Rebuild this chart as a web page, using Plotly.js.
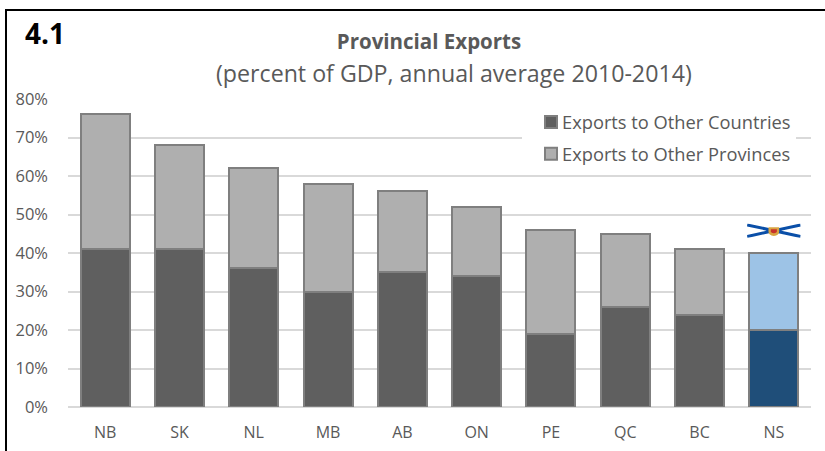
<!DOCTYPE html>
<html>
<head>
<meta charset="utf-8">
<script src="https://cdn.plot.ly/plotly-3.0.1.min.js"></script>
<style>
  html, body { margin: 0; padding: 0; background: #fff; overflow: hidden; }
  #frame { position: absolute; left: 5px; top: 9px; width: 820px; height: 442px;
           border-left: 2px solid #000; border-top: 2px solid #000; box-sizing: border-box; }
  #chart { position: absolute; left: 0; top: 0; width: 825px; height: 451px; }
</style>
</head>
<body>
<div id="chart"></div>
<div id="frame"></div>
<script>
const provinces = ['NB', 'SK', 'NL', 'MB', 'AB', 'ON', 'PE', 'QC', 'BC', 'NS'];
const toCountries = [41, 41, 36, 30, 35, 34, 19, 26, 24, 20];
const toProvinces = [35, 27, 26, 28, 21, 18, 27, 19, 17, 20];
const yTicks = [0, 10, 20, 30, 40, 50, 60, 70, 80];

const textGrey = '#595959';
const outline = '#7f7f7f';
const highlighted = 'NS';
const shade = (base, accent) => provinces.map(p => p === highlighted ? accent : base);

// Nova Scotia flag, placed above its bar
const flag = 'data:image/svg+xml;utf8,' + encodeURIComponent(
  '<svg xmlns="http://www.w3.org/2000/svg" width="160" height="42" viewBox="0 0 160 42">' +
  '<path d="M0 4 L160 38 M0 38 L160 4" stroke="#0a4fa8" stroke-width="9" fill="none"/>' +
  '<path d="M64 11 H96 V24 Q96 34 80 37 Q64 34 64 24 Z" fill="#d9a441"/>' +
  '<path d="M71 17 H89 V25 Q80 32 71 25 Z" fill="#c8322b"/>' +
  '</svg>');

const barStyle = (base, accent) => ({
  color: shade(base, accent),
  line: { color: outline, width: 2 }
});

const traces = [
  { type: 'bar', name: 'Exports to Other Countries', x: provinces, y: toCountries,
    legendgroup: 'countries', marker: barStyle('#5f5f5f', '#1f4e79'), hoverinfo: 'x+y+name' },
  { type: 'bar', name: 'Exports to Other Provinces', x: provinces, y: toProvinces,
    legendgroup: 'provinces', marker: barStyle('#afafaf', '#9dc3e6'), hoverinfo: 'x+y+name' }
];

const layout = {
  width: 825, height: 451,
  margin: { l: 68, r: 14, t: 99, b: 43.5 },
  paper_bgcolor: '#fff', plot_bgcolor: '#fff',
  barmode: 'stack', bargap: 0.34,
  font: { family: '"Open Sans", sans-serif', color: textGrey, size: 16 },
  title: { text: '<b>Provincial Exports</b>', x: 0.52, xanchor: 'center', y: 0.908, yanchor: 'middle',
           font: { size: 20.5, color: textGrey } },
  xaxis: { type: 'category', categoryorder: 'array', categoryarray: provinces,
           showline: false, ticks: '', tickfont: { size: 16, color: textGrey }, ticklabelstandoff: 14 },
  yaxis: { range: [0, 80], tickvals: yTicks, ticktext: yTicks.map(v => v + '%'),
           gridcolor: '#d9d9d9', gridwidth: 2, zeroline: true, zerolinecolor: '#d9d9d9', zerolinewidth: 2,
           ticks: '', tickfont: { size: 16.5, color: textGrey }, ticklabelstandoff: 19 },
  legend: { x: 0.611, xanchor: 'left', y: 0.985, yanchor: 'top', bgcolor: '#fff',
            traceorder: 'grouped', tracegroupgap: 5, itemclick: false, itemdoubleclick: false,
            font: { size: 18.3, color: textGrey } },
  annotations: [
    { xref: 'paper', yref: 'paper', x: 0.52, y: 1.085, xanchor: 'center', yanchor: 'middle', showarrow: false,
      text: '(percent of GDP, annual average 2010-2014)', font: { size: 23.2, color: textGrey } },
    { xref: 'paper', yref: 'paper', x: -0.061, y: 1.215, xanchor: 'left', yanchor: 'middle', showarrow: false,
      text: '<b>4.1</b>', font: { size: 28, color: '#000' } }
  ],
  images: [
    { source: flag, xref: 'x', yref: 'y', x: highlighted, y: 45.8, sizex: 0.72, sizey: 3.7,
      xanchor: 'center', yanchor: 'middle', sizing: 'stretch', layer: 'above' }
  ]
};

Plotly.newPlot('chart', traces, layout, { displayModeBar: false }).then(() => {
  // pull the legend swatches closer to their labels
  document.querySelectorAll('#chart .legendsymbols').forEach(g => g.setAttribute('transform', 'translate(9,0)'));
});
</script>
</body>
</html>
